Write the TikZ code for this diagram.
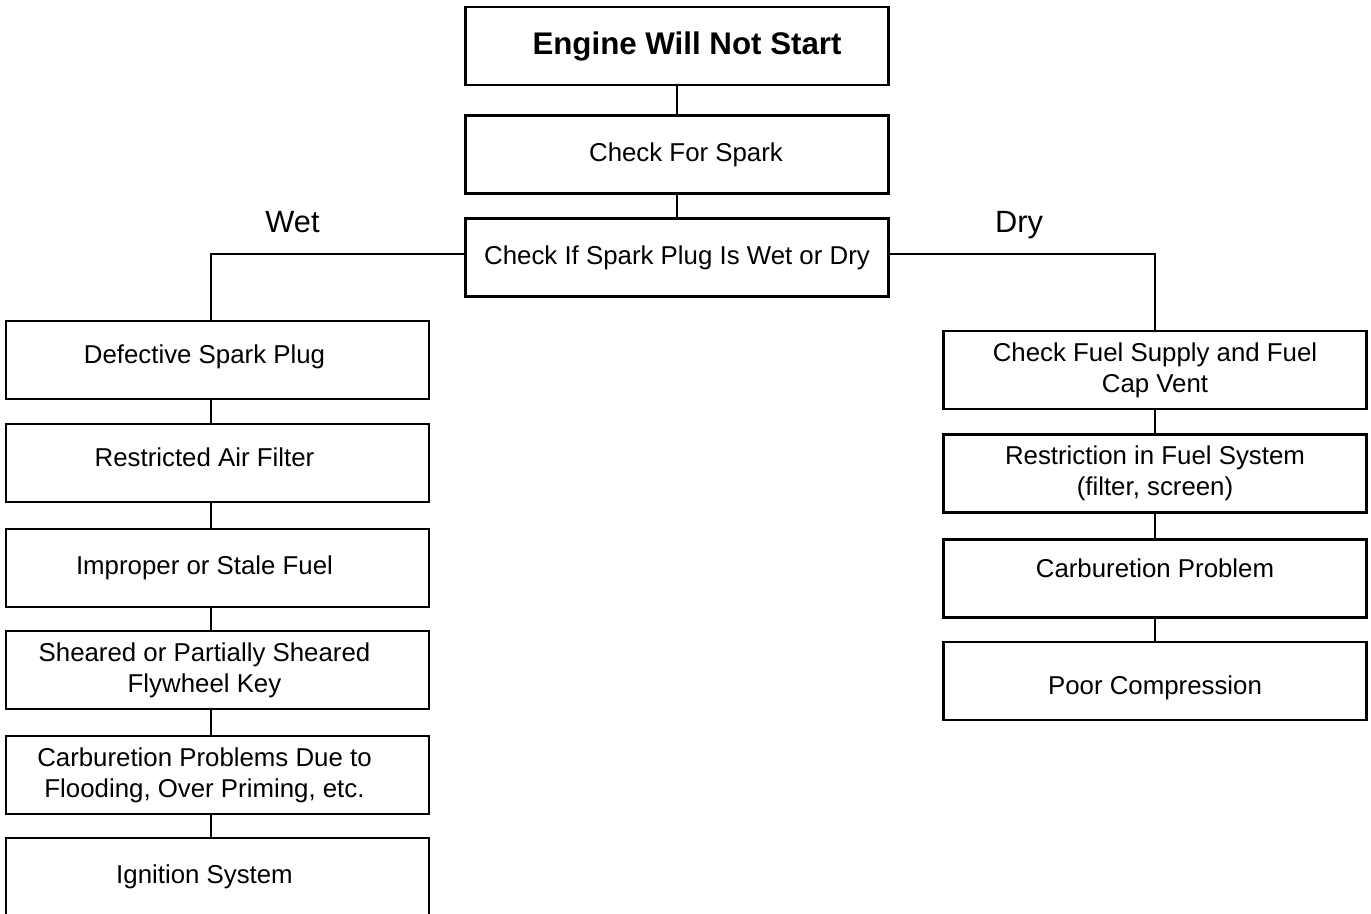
\documentclass[tikz,border=0pt]{standalone}
\usepackage{fontspec}
\setmainfont{Liberation Sans}
\usepackage{tikz}
\usetikzlibrary{positioning}
\newcommand{\nudge}{\hspace*{-0.52cm}}

\begin{document}
\begin{tikzpicture}[x=0.02cm, y=-0.02cm, line width=1.4pt,
  box/.style={rectangle, draw=black, fill=white, minimum width=8.46cm,
              minimum height=1.56cm, align=center, inner sep=1mm,
              font=\fontsize{14.7}{17.5}\selectfont},
  lift/.style={text height=0.42cm, text depth=#1},
  branch/.style={font=\fontsize{17.5}{20}\selectfont, anchor=base}]
  \useasboundingbox (0,0) rectangle (1371,913);
  \clip (0,0) rectangle (1371,913);
  % main trunk
  \node[box, font=\bfseries\fontsize{17.8}{20}\selectfont] (start) at (677,46) {\hspace*{0.4cm}Engine Will Not Start};
  \node[box] (spark) at (677,154.5) {\hspace*{0.36cm}Check For Spark};
  \node[box] (plug)  at (677,257.5) {Check If Spark Plug Is Wet or Dry};
  \node[branch] (wet) at (292.5,232) {Wet};
  \node[branch] (dry) at (1019,232) {Dry};
  % wet side
  \node[box, lift=0.28cm] (w1) at (217.5,360) {\nudge Defective Spark Plug};
  \node[box, lift=0.28cm] (w2) at (217.5,463) {\nudge Restricted Air Filter};
  \node[box] (w3) at (217.5,568) {\nudge Improper or Stale Fuel};
  \node[box] (w4) at (217.5,670) {\nudge Sheared or Partially Sheared\\\nudge Flywheel Key};
  \node[box] (w5) at (217.5,775) {\nudge Carburetion Problems Due to\\\nudge Flooding, Over Priming, etc.};
  \node[box] (w6) at (217.5,877) {\nudge Ignition System};
  % dry side
  \node[box] (d1) at (1155,370) {Check Fuel Supply and Fuel\\Cap Vent};
  \node[box] (d2) at (1155,473.5) {Restriction in Fuel System\\(filter, screen)};
  \node[box, lift=0.444cm] (d3) at (1155,578.5) {Carburetion Problem};
  \node[box, text height=0.64cm, text depth=0.1cm] (d4) at (1155,681) {Poor Compression};
  % connectors
  \draw (start) -- (spark);
  \draw (spark) -- (plug);
  \draw ([yshift=0.07cm]plug.west) -| ([xshift=-0.13cm]w1.north);
  \draw ([yshift=0.07cm]plug.east) -| (d1.north);
  \foreach \a/\b in {w1/w2, w2/w3, w3/w4, w4/w5, w5/w6}
    \draw ([xshift=-0.13cm]\a.south) -- ([xshift=-0.13cm]\b.north);
  \foreach \a/\b in {d1/d2, d2/d3, d3/d4}
    \draw (\a) -- (\b);
\end{tikzpicture}
\end{document}
